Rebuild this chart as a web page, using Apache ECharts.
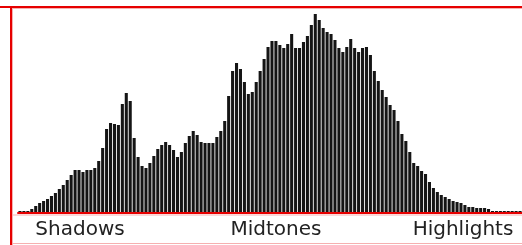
<!DOCTYPE html>
<html>
<head>
<meta charset="utf-8">
<script src="https://cdn.jsdelivr.net/npm/echarts@6/dist/echarts.min.js"></script>
<style>
html,body{margin:0;padding:0;background:#fff;}
#chart{width:522px;height:245px;}
</style>
</head>
<body>
<div id="chart"></div>
<script>
// 128 histogram bins (levels 0..255 in steps of 2)
const bins = Array.from({length: 128}, (_, i) => String(i * 2));
const counts = [
  2, 2, 2, 4, 7, 10, 12, 14, 17, 20, 24, 28, 33, 38, 43, 43,
  41, 43, 43, 45, 52, 65, 84, 90, 89, 88, 109, 120, 112, 75, 56, 47,
  45, 50, 57, 64, 68, 71, 68, 63, 56, 61, 70, 77, 82, 78, 71, 70,
  70, 70, 76, 82, 92, 117, 142, 150, 144, 131, 119, 121, 131, 142, 154, 166,
  172, 172, 168, 165, 169, 179, 165, 165, 171, 177, 188, 199, 193, 185, 181, 179,
  173, 165, 161, 166, 174, 165, 161, 165, 166, 158, 142, 132, 123, 116, 108, 103,
  92, 79, 72, 61, 50, 47, 42, 39, 31, 25, 21, 18, 16, 14, 12, 11,
  10, 8, 6, 6, 5, 5, 5, 4, 2, 2, 2, 2, 2, 2, 2, 2
];
const zoneLabels = ['Shadows', 'Midtones', 'Highlights'];
const zoneCenters = [80, 276, 463];

const chart = echarts.init(document.getElementById('chart'), null, {renderer: 'canvas'});
const RED = '#e60000';
const PINK = '#f6b0b0';
const graphics = [
  {type: 'line', shape: {x1: 0, y1: 7, x2: 522, y2: 7}, style: {stroke: RED, lineWidth: 2}, z: 10},
  {type: 'line', shape: {x1: 12, y1: 8.5, x2: 522, y2: 8.5}, style: {stroke: PINK, lineWidth: 1}, z: 10},
  {type: 'line', shape: {x1: 11, y1: 6, x2: 11, y2: 245}, style: {stroke: RED, lineWidth: 2}, z: 10},
  {type: 'line', shape: {x1: 12.5, y1: 8, x2: 12.5, y2: 245}, style: {stroke: PINK, lineWidth: 1}, z: 10},
  {type: 'line', shape: {x1: 12, y1: 215, x2: 522, y2: 215}, style: {stroke: PINK, lineWidth: 1}, z: 10},
  {type: 'line', shape: {x1: 12, y1: 243.5, x2: 522, y2: 243.5}, style: {stroke: PINK, lineWidth: 1}, z: 10}
];
zoneLabels.forEach((t, i) => {
  graphics.push({
    type: 'text', x: zoneCenters[i], y: 229.5, z: 10,
    style: {text: t, font: '20px "DejaVu Sans"', fill: '#222', align: 'center', verticalAlign: 'middle'}
  });
});

chart.setOption({
  animation: false,
  backgroundColor: '#fff',
  grid: {left: 18, right: 0, top: 7, bottom: 32, containLabel: false},
  xAxis: {
    type: 'category', data: bins, z: 5,
    axisLine: {show: true, lineStyle: {color: RED, width: 2}},
    axisTick: {show: false}, axisLabel: {show: false}, splitLine: {show: false}
  },
  yAxis: {
    type: 'value', min: 0, max: 206,
    axisLine: {show: false}, axisTick: {show: false}, axisLabel: {show: false}, splitLine: {show: false}
  },
  series: [{
    type: 'bar', data: counts, barCategoryGap: '22%',
    itemStyle: {color: '#151515'},
    silent: true
  }],
  graphic: graphics
});
</script>
</body>
</html>
